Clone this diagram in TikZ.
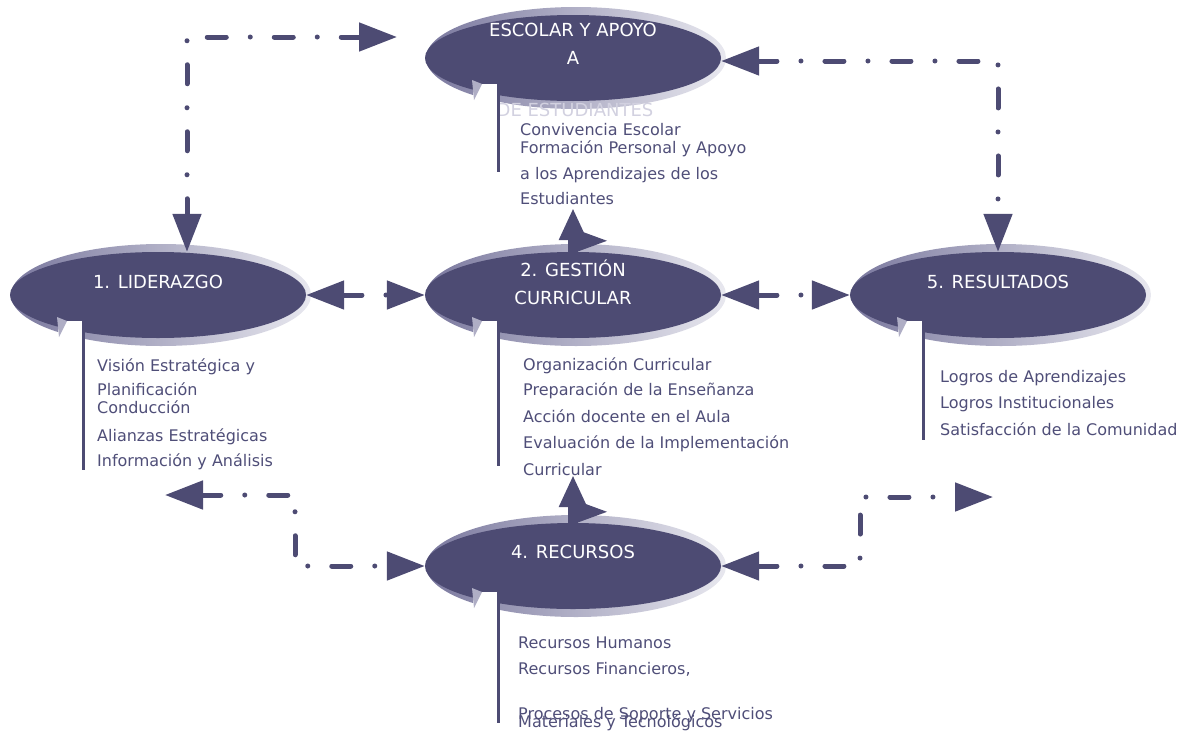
\documentclass[tikz,border=0pt]{standalone}
\usepackage{fontspec}
\setmainfont{DejaVu Sans}
\usetikzlibrary{shapes.geometric}
\usetikzlibrary{arrows.meta}
\usetikzlibrary{backgrounds}

\definecolor{dk}{HTML}{4D4B73}
\definecolor{txt}{HTML}{4F4E78}
\definecolor{bandL}{HTML}{7A789E}
\definecolor{bandR}{HTML}{E8E8EF}
\definecolor{ghost}{HTML}{D2D1E0}

\begin{document}
\begin{tikzpicture}[
    x=1pt, y=-1pt, % coordenadas en pixeles, y hacia abajo
    >={Triangle[length=38pt,width=28pt]},
    blob/.style={ellipse, fill=dk, minimum width=296pt, minimum height=86pt, inner sep=0pt}, % elipse oscura
    band/.style={left color=bandL, right color=bandR}, % sombra clara
    title/.style={text=white, align=center, font=\fontsize{18}{28}\selectfont},
    item/.style={anchor=base west, inner sep=0pt, text=txt, font=\fontsize{16}{19}\selectfont},
    conn/.style={<->, draw=dk, line width=5pt, line cap=round, dash pattern=on 19pt off 24pt on 0pt off 24pt},
    uparrow/.style={-{Triangle[length=32pt,width=26pt]}, draw=dk, line width=10pt},
    vline/.style={draw=dk, line width=3pt}
]
    \useasboundingbox (0,0) rectangle (1190,736);

    % --- Elipses ---
    \node[blob] (con) at (573,58)  {};
    \node[blob] (lid) at (158,295) {};
    \node[blob] (ges) at (573,295) {};
    \node[blob] (res) at (998,295) {};
    \node[blob] (rec) at (573,566) {};

    % --- Sombras ---
    \begin{scope}[on background layer]
        \foreach \n in {con,lid,ges,res,rec}
            \shade[band] ([xshift=3pt]\n.center) ellipse (150pt and 51pt);
    \end{scope}

    % --- Titulos ---
    \node[title] (conT) at ([yshift=14pt]con.center) {ESCOLAR Y APOYO\\A};
    \node[title, text=ghost] (conX) at (575,110) {DE ESTUDIANTES};
    \node[title] (lidT) at ([yshift=13pt]lid.center) {1. LIDERAZGO};
    \node[title] (gesT) at ([yshift=13pt]ges.center) {2. GESTIÓN\\CURRICULAR};
    \node[title] (resT) at ([yshift=13pt]res.center) {5. RESULTADOS};
    \node[title] (recT) at ([yshift=14pt]rec.center) {4. RECURSOS};

    % --- Muescas y lineas verticales ---
    \foreach \n/\len in {con/88, lid/149, ges/145, res/119, rec/131} {
        \fill[white] ([shift={(-100,26)}]\n.center) rectangle ([shift={(-75,52)}]\n.center);
        \fill[bandL!60!white] ([shift={(-101,22)}]\n.center) -- ([shift={(-91,26)}]\n.center)
            -- ([shift={(-99,42)}]\n.center) -- cycle;
        \draw[vline] ([shift={(-75,26)}]\n.center) -- ++(0,\len);
    }

    % --- Listas ---
    \foreach \t/\yy [count=\i] in {Convivencia Escolar/135, Formación Personal y Apoyo/153,
            a los Aprendizajes de los/179, Estudiantes/204}
        \node[item] (con\i) at (520,\yy) {\t};
    \foreach \t/\yy [count=\i] in {Visión Estratégica y/371, Planificación/395, Conducción/413,
            Alianzas Estratégicas/441, Información y Análisis/466}
        \node[item] (lid\i) at (97,\yy) {\t};
    \foreach \t/\yy [count=\i] in {Organización Curricular/370, Preparación de la Enseñanza/395,
            Acción docente en el Aula/422, Evaluación de la Implementación/448, Curricular/475}
        \node[item] (ges\i) at (523,\yy) {\t};
    \foreach \t/\yy [count=\i] in {Logros de Aprendizajes/382, Logros Institucionales/408,
            Satisfacción de la Comunidad/435}
        \node[item] (res\i) at (940,\yy) {\t};
    \foreach \t/\yy [count=\i] in {Recursos Humanos/648, {Recursos Financieros,}/674,
            Procesos de Soporte y Servicios/719, Materiales y Tecnológicos/727}
        \node[item] (rec\i) at (518,\yy) {\t};

    % --- Conectores ---
    \coordinate (tlEnd) at (397,37);
    \coordinate (tl) at (187,37);
    \draw[conn] (tlEnd) -- (tl) -- (tl |- lid.north);
    \draw[conn] ([yshift=-3pt]con.east) -| (res.north);
    \draw[conn] (lid.east) -- (ges.west);
    \draw[conn] (ges.east) -- (res.west);
    \coordinate (bl) at (165,495);
    \coordinate (blc) at (295,495);
    \draw[conn] (bl) -- (blc) |- (rec.west);
    \coordinate (brc) at (860,497);
    \coordinate (br) at (993,497);
    \draw[conn] (rec.east) -| (brc) -- (br);

    % --- Flechas verticales ---
    \coordinate (up1) at (573,208);
    \coordinate (up2) at (573,475);
    \draw[uparrow] (ges.north) -- (up1);
    \draw[uparrow] (rec.north) -- (up2);
    \fill[dk] ([shift={(4,-22)}]ges.north) -- ([shift={(34,-11)}]ges.north) -- ([shift={(4,0)}]ges.north) -- cycle;
    \fill[dk] ([shift={(4,-22)}]rec.north) -- ([shift={(34,-11)}]rec.north) -- ([shift={(4,0)}]rec.north) -- cycle;

\end{tikzpicture}
\end{document}
